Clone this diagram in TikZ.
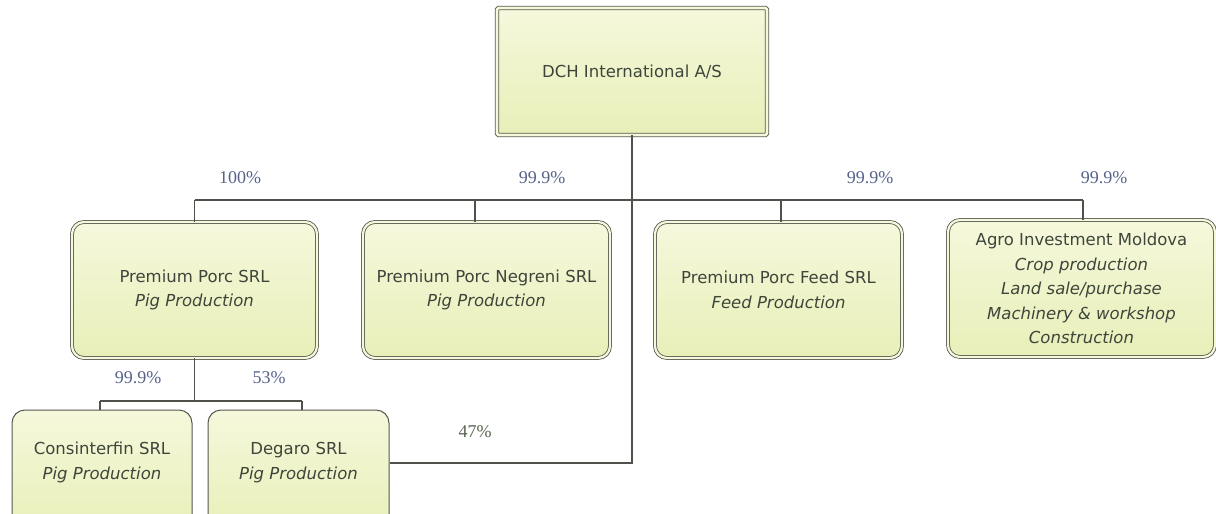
\documentclass[tikz,border=0pt]{standalone}
\usepackage{fontspec}
\setmainfont{DejaVu Sans}
\newfontfamily\pctfont{Liberation Serif}
\definecolor{boxline}{HTML}{55574F}
\definecolor{boxtop}{HTML}{F6F8DC}
\definecolor{boxbot}{HTML}{E8EFB8}
\definecolor{txt}{HTML}{3E453A}
\definecolor{pct}{HTML}{56628A}
\definecolor{pctg}{HTML}{56634F}
\definecolor{wire}{HTML}{4F514A}
\begin{document}
\begin{tikzpicture}[x=1pt,y=-1pt,
  basebox/.style={align=center, inner sep=0pt, text=txt,
    font=\fontsize{16.5}{24.5}\selectfont,
    top color=boxtop, bottom color=boxbot},
  dblbox/.style={basebox, draw=boxline, line width=0.8pt, double=boxtop, double distance=2.2pt, rounded corners=12pt},
  topbox/.style={basebox, draw=boxline, line width=0.9pt, double=boxtop, double distance=2.6pt, rounded corners=1.5pt},
  subbox/.style={basebox, draw=boxline, line width=1pt, rounded corners=13pt},
  wireline/.style={draw=wire, line width=1.2pt},
  pctlabel/.style={text=pct, font=\pctfont\fontsize{18}{20}\selectfont, inner sep=0pt},
]
\useasboundingbox (0,0) rectangle (1216,514);
\clip (0,0) rectangle (1216,514);

% nodes
\node[topbox, minimum width=270pt, minimum height=127pt] (top) at (632,71.5) {DCH International A/S};
\node[dblbox, minimum width=245pt, minimum height=136pt] (p1) at (194.5,290) {Premium Porc SRL\\\textit{Pig Production}};
\node[dblbox, minimum width=247pt, minimum height=136pt] (p2) at (486.5,290) {Premium Porc Negreni SRL\\\textit{Pig Production}};
\node[dblbox, minimum width=247pt, minimum height=136pt] (p3) at (778.5,290) {Premium Porc Feed SRL\\\textit{Feed Production}};
\node[dblbox, minimum width=267pt, minimum height=137pt] (p4) at (1081.5,288.5) {Agro Investment Moldova\\\textit{Crop production}\\\textit{Land sale/purchase}\\\textit{Machinery \& workshop}\\\textit{Construction}};
\node[subbox, minimum width=180pt, minimum height=122pt] (c1) at (102,471) {Consinterfin SRL\\\textit{Pig Production}\\[-4pt]\mbox{}};
\node[subbox, minimum width=181pt, minimum height=122pt] (c2) at (298.5,471) {Degaro SRL\\\textit{Pig Production}\\[-4pt]\mbox{}};

% bus coordinates
\coordinate (bl) at (194.5,200);
\coordinate (br) at (1083,200);
\coordinate (d2) at (475,200);
\coordinate (d3) at (781,200);
\coordinate (sb) at (194.5,401);
\coordinate (s1) at (100,401);
\coordinate (s2) at (302,401);
\coordinate (k) at (632,463);

% connectors
\draw[wireline] (bl) -- (br);
\draw[wireline] (bl) -- (p1.north);
\draw[wireline] (d2) -- (d2 |- p2.north);
\draw[wireline] (d3) -- (d3 |- p3.north);
\draw[wireline] (br) -- (br |- p4.north);
\draw[wireline] (top.south) -- (k) -- (c2.east |- k);
\draw[wireline] (p1.south) -- (sb);
\draw[wireline] (s1) -- (s2);
\draw[wireline] (s1) -- (s1 |- c1.north);
\draw[wireline] (s2) -- (s2 |- c2.north);

% labels
\node[pctlabel] (l1) at (240,178) {100\%};
\node[pctlabel] (l2) at (542,178) {99.9\%};
\node[pctlabel] (l3) at (870,178) {99.9\%};
\node[pctlabel] (l4) at (1104,178) {99.9\%};
\node[pctlabel] (l5) at (138,378) {99.9\%};
\node[pctlabel] (l6) at (269,378) {53\%};
\node[pctlabel, text=pctg] (l7) at (475,432) {47\%};
\end{tikzpicture}
\end{document}
